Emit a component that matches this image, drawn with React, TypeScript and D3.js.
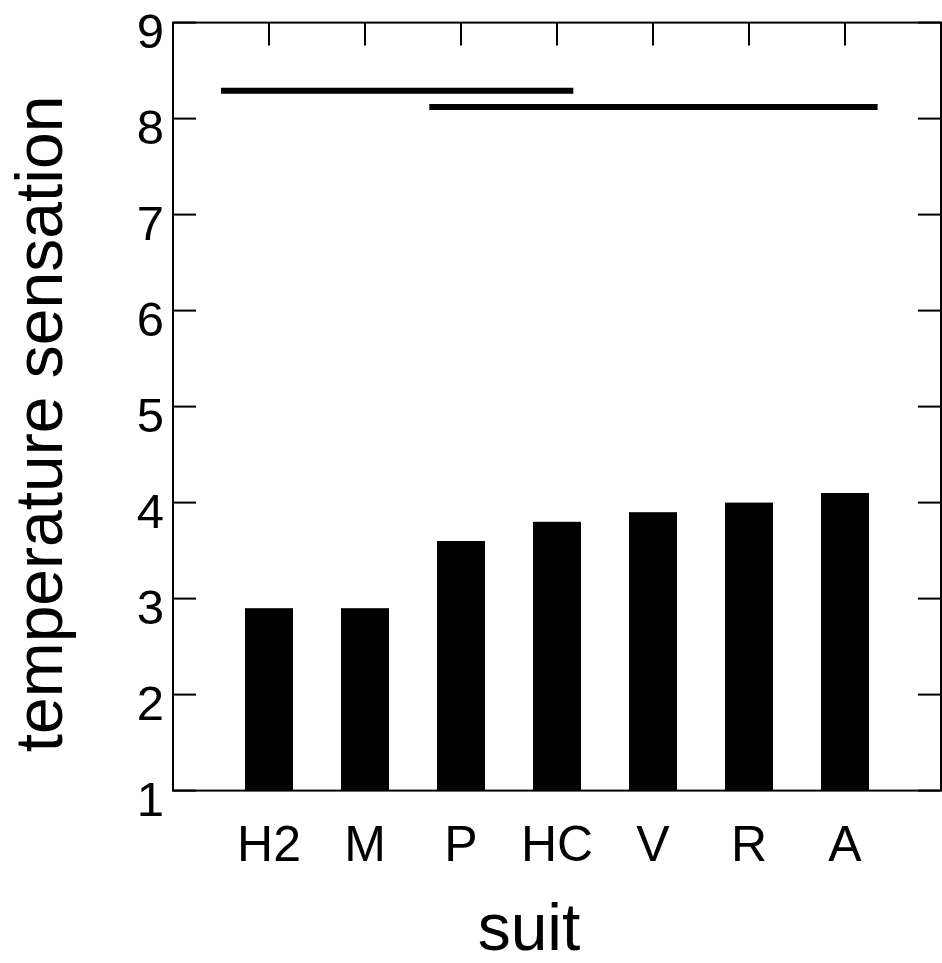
import React, { useEffect, useRef } from "react";
import * as d3 from "d3";

// Mean temperature sensation per suit
const suits = ["H2", "M", "P", "HC", "V", "R", "A"];
const sensation = [2.9, 2.9, 3.6, 3.8, 3.9, 4.0, 4.1];

// Brackets grouping suits that do not differ significantly (x in category units)
const groupStart = [0.5, 2.67];
const groupEnd = [4.17, 7.34];
const groupLevel = [8.29, 8.12];

const yTicks = [1, 2, 3, 4, 5, 6, 7, 8, 9];

const W = 942;
const H = 963;
const FONT = "'Liberation Sans', Arial, Helvetica, sans-serif";

export default function App() {
  const ref = useRef<SVGSVGElement>(null);

  useEffect(() => {
    const svg = d3.select(ref.current);
    svg.selectAll("*").remove();

    const left = 173;
    const right = 941;
    const top = 22.6;
    const bottom = 790.6;

    const x = d3.scaleLinear().domain([0, suits.length + 1]).range([left, right]);
    const y = d3.scaleLinear().domain([1, 9]).range([bottom, top]);
    const tickLen = 23;
    const catPos = suits.map((_, i) => i + 1);

    const g = svg.append("g");

    // inward ticks on all four sides
    const tickColor = "#000";
    g.selectAll("line.lt")
      .data(yTicks)
      .join("line")
      .attr("x1", left)
      .attr("x2", left + tickLen)
      .attr("y1", (d) => y(d))
      .attr("y2", (d) => y(d))
      .attr("stroke", tickColor)
      .attr("stroke-width", 2);
    g.selectAll("line.rt")
      .data(yTicks)
      .join("line")
      .attr("x1", right - tickLen)
      .attr("x2", right)
      .attr("y1", (d) => y(d))
      .attr("y2", (d) => y(d))
      .attr("stroke", tickColor)
      .attr("stroke-width", 2);
    g.selectAll("line.tt")
      .data(catPos)
      .join("line")
      .attr("x1", (d) => x(d))
      .attr("x2", (d) => x(d))
      .attr("y1", top)
      .attr("y2", top + tickLen)
      .attr("stroke", tickColor)
      .attr("stroke-width", 2);
    g.selectAll("line.bt")
      .data(catPos)
      .join("line")
      .attr("x1", (d) => x(d))
      .attr("x2", (d) => x(d))
      .attr("y1", bottom)
      .attr("y2", bottom - tickLen)
      .attr("stroke", tickColor)
      .attr("stroke-width", 2);

    // bars
    const barW = x(0.5) - x(0);
    g.selectAll("rect.bar")
      .data(sensation)
      .join("rect")
      .attr("x", (_, i) => x(catPos[i]) - barW / 2)
      .attr("width", barW)
      .attr("y", (d) => y(d))
      .attr("height", (d) => y(1) - y(d))
      .attr("fill", "#000");

    // frame
    g.append("rect")
      .attr("x", left)
      .attr("y", top)
      .attr("width", right - left)
      .attr("height", bottom - top)
      .attr("fill", "none")
      .attr("stroke", "#000")
      .attr("stroke-width", 2);

    // significance brackets
    g.selectAll("line.grp")
      .data(groupLevel)
      .join("line")
      .attr("x1", (_, i) => x(groupStart[i]))
      .attr("x2", (_, i) => x(groupEnd[i]))
      .attr("y1", (d) => y(d))
      .attr("y2", (d) => y(d))
      .attr("stroke", "#000")
      .attr("stroke-width", 6);

    // y tick labels
    g.selectAll("text.yl")
      .data(yTicks)
      .join("text")
      .attr("x", 164)
      .attr("y", (d) => y(d) + 25)
      .attr("text-anchor", "end")
      .attr("font-family", FONT)
      .attr("font-size", 49)
      .attr("fill", "#000")
      .text((d) => String(d));

    // category labels
    g.selectAll("text.xl")
      .data(suits)
      .join("text")
      .attr("x", (_, i) => x(catPos[i]))
      .attr("y", 861)
      .attr("text-anchor", "middle")
      .attr("font-family", FONT)
      .attr("font-size", 50)
      .attr("fill", "#000")
      .text((d) => d);

    // axis titles
    g.append("text")
      .attr("x", 529)
      .attr("y", 950)
      .attr("text-anchor", "middle")
      .attr("font-family", FONT)
      .attr("font-size", 66)
      .attr("fill", "#000")
      .text("suit");

    g.append("text")
      .attr("transform", "translate(62,424) rotate(-90)")
      .attr("text-anchor", "middle")
      .attr("font-family", FONT)
      .attr("font-size", 66)
      .attr("fill", "#000")
      .text("temperature sensation");
  }, []);

  return (
    <svg
      ref={ref}
      width={W}
      height={H}
      style={{ position: "absolute", left: 0, top: 0, background: "#fff" }}
    />
  );
}
